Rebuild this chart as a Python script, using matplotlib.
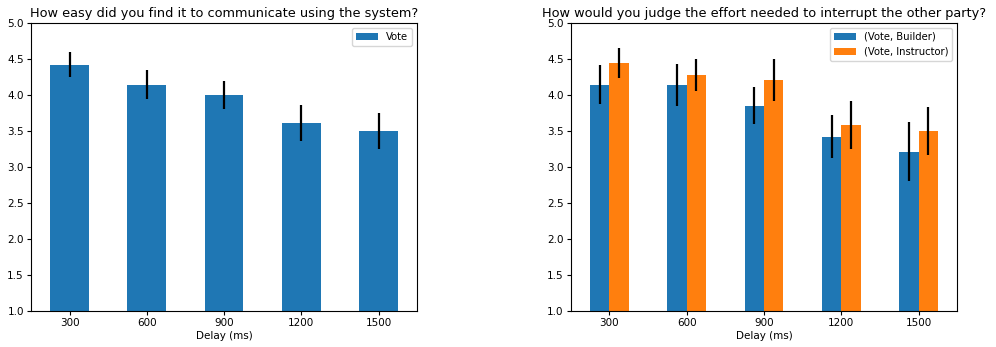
import matplotlib
matplotlib.use("Agg")
import matplotlib.pyplot as plt
import numpy as np

delays = ["300", "600", "900", "1200", "1500"]

# Ease of communication (overall)
vote_mean = [4.42, 4.14, 4.00, 3.61, 3.50]
vote_err = [0.17, 0.20, 0.20, 0.25, 0.25]

# Effort needed to interrupt, split by role
builder_mean = [4.14, 4.14, 3.85, 3.42, 3.21]
builder_err = [0.27, 0.29, 0.26, 0.30, 0.41]
instructor_mean = [4.44, 4.28, 4.21, 3.58, 3.50]
instructor_err = [0.21, 0.22, 0.29, 0.33, 0.33]

blue = "#1f77b4"
orange = "#ff7f0e"

fig = plt.figure(figsize=(9.96, 3.47), dpi=100)
ax1 = fig.add_axes([0.031, 0.104, 0.388, 0.830])
ax2 = fig.add_axes([0.573, 0.104, 0.388, 0.830])

x = np.arange(len(delays))
err_kw = dict(elinewidth=1.6, ecolor="black", capsize=0)

ax1.bar(x, vote_mean, width=0.5, color=blue, yerr=vote_err,
        error_kw=err_kw, label="Vote")
ax1.set_title("How easy did you find it to communicate using the system?",
              fontsize=9.3, pad=4.5)

w = 0.25
ax2.bar(x - w / 2, builder_mean, width=w, color=blue, yerr=builder_err,
        error_kw=err_kw, label="(Vote, Builder)")
ax2.bar(x + w / 2, instructor_mean, width=w, color=orange, yerr=instructor_err,
        error_kw=err_kw, label="(Vote, Instructor)")
ax2.set_title("How would you judge the effort needed to interrupt the other party?",
              fontsize=9.3, pad=4.5)

for ax in (ax1, ax2):
    ax.set_ylim(1.0, 5.0)
    ax.set_xlim(-0.5, len(delays) - 0.5)
    ax.set_xticks(x)
    ax.set_xticklabels(delays)
    ax.set_yticks(np.arange(1.0, 5.01, 0.5))
    ax.set_yticklabels([f"{v:.1f}" for v in np.arange(1.0, 5.01, 0.5)])
    ax.tick_params(labelsize=7.5, length=3, pad=2)
    ax.set_xlabel("Delay (ms)", fontsize=7.5, labelpad=2)
    ax.legend(loc="upper right", fontsize=7.2, handlelength=2.2)

fig.savefig("out.png", dpi=100)
